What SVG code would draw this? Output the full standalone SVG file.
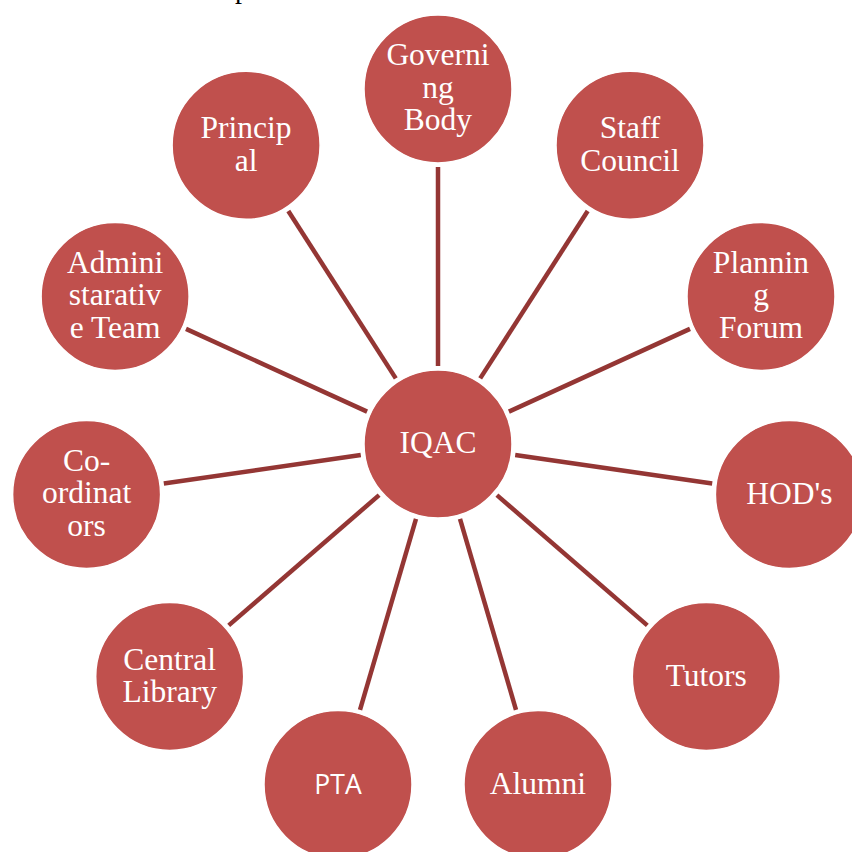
<svg xmlns="http://www.w3.org/2000/svg" width="852" height="852" viewBox="0 0 852 852">
<style>
.n{fill:#C0504D;stroke:#FFFFFF;stroke-width:1.5}
.t{fill:#FFFFFF;font-family:"Liberation Serif","Times New Roman",serif;font-size:31.5px;text-anchor:middle}
.s{fill:#FFFFFF;font-family:"Open Sans","Liberation Sans",Arial,sans-serif;font-size:26.5px;text-anchor:middle}
.c line{stroke:#943634;stroke-width:4.5}
</style>
<rect width="852" height="852" fill="#FFFFFF"/>
<text x="235" y="-2" font-family="Liberation Serif,serif" font-size="28" fill="#000">p</text>
<g class="c" id="connectors">
<line x1="438" y1="366" x2="438" y2="167"/>
<line x1="480.2" y1="378.4" x2="587.7" y2="211"/>
<line x1="508.9" y1="411.6" x2="690" y2="328.9"/>
<line x1="515.2" y1="455.1" x2="712.2" y2="483.4"/>
<line x1="496.9" y1="495.1" x2="647.3" y2="625.4"/>
<line x1="460" y1="518.8" x2="516" y2="709.8"/>
<line x1="416" y1="518.8" x2="360" y2="709.8"/>
<line x1="379.1" y1="495.1" x2="228.7" y2="625.4"/>
<line x1="360.8" y1="455.1" x2="163.8" y2="483.4"/>
<line x1="367.1" y1="411.6" x2="186" y2="328.9"/>
<line x1="395.8" y1="378.4" x2="288.3" y2="211"/>
</g>
<g id="iqac"><circle class="n" cx="438" cy="444" r="74"/><text class="t" x="438" y="453">IQAC</text></g>
<g id="governing-body"><circle class="n" cx="438" cy="89" r="74"/><text class="t" x="438" y="65">Governi</text><text class="t" x="438" y="97.5">ng</text><text class="t" x="438" y="130">Body</text></g>
<g id="staff-council"><circle class="n" cx="630" cy="145.3" r="74"/><text class="t" x="630" y="138">Staff</text><text class="t" x="630" y="170.5">Council</text></g>
<g id="planning-forum"><circle class="n" cx="761" cy="296.5" r="74"/><text class="t" x="761" y="272.5">Plannin</text><text class="t" x="761" y="305">g</text><text class="t" x="761" y="337.5">Forum</text></g>
<g id="hods"><circle class="n" cx="789.4" cy="494.5" r="74"/><text class="t" x="789.4" y="504">HOD's</text></g>
<g id="tutors"><circle class="n" cx="706.3" cy="676.5" r="74"/><text class="t" x="706.3" y="686">Tutors</text></g>
<g id="alumni"><circle class="n" cx="538" cy="784.6" r="74"/><text class="t" x="538" y="794">Alumni</text></g>
<g id="pta"><circle class="n" cx="338" cy="784.6" r="74"/><text class="s" x="338" y="794">PTA</text></g>
<g id="central-library"><circle class="n" cx="169.7" cy="676.5" r="74"/><text class="t" x="169.7" y="669.5">Central</text><text class="t" x="169.7" y="702">Library</text></g>
<g id="coordinators"><circle class="n" cx="86.6" cy="494.5" r="74"/><text class="t" x="86.6" y="470.5">Co-</text><text class="t" x="86.6" y="503">ordinat</text><text class="t" x="86.6" y="535.5">ors</text></g>
<g id="administrative-team"><circle class="n" cx="115.1" cy="296.5" r="74"/><text class="t" x="115.1" y="272.5">Admini</text><text class="t" x="115.1" y="305">starativ</text><text class="t" x="115.1" y="337.5">e Team</text></g>
<g id="principal"><circle class="n" cx="246.1" cy="145.3" r="74"/><text class="t" x="246.1" y="138">Princip</text><text class="t" x="246.1" y="170.5">al</text></g>
</svg>
